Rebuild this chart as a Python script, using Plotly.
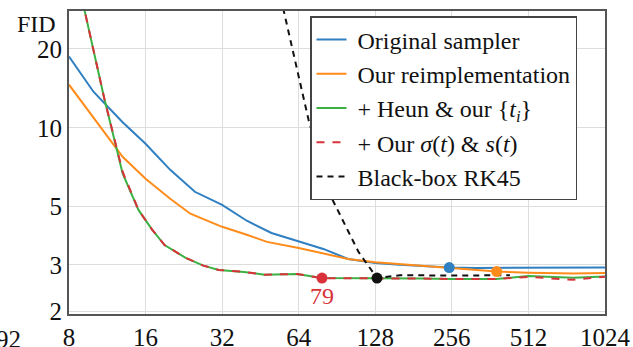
import plotly.graph_objects as go
import math

# ---- data ----
x_orig = [8, 10, 13, 16, 20, 25, 32, 40, 50, 64, 80, 100, 128, 160, 200, 250, 320, 400, 512, 640, 800, 1024]
y_orig = [18.7, 13.7, 10.5, 8.69, 6.91, 5.70, 5.08, 4.42, 3.97, 3.70, 3.45, 3.16, 3.05, 3.00, 2.96, 2.93, 2.92, 2.92, 2.92, 2.92, 2.925, 2.93]

x_reimpl = [8, 10, 13, 16, 20, 24, 32, 40, 48, 64, 80, 100, 128, 160, 200, 256, 384, 512, 768, 1024]
y_reimpl = [14.6, 10.9, 7.75, 6.39, 5.36, 4.70, 4.19, 3.91, 3.67, 3.48, 3.31, 3.16, 3.07, 3.02, 2.97, 2.93, 2.83, 2.80, 2.78, 2.79]

x_heun = [9, 11, 13, 15, 17, 19, 23, 27, 31, 39, 47, 63, 79, 95, 127, 159, 191, 255, 319, 383, 511, 639, 767, 1023]
y_heun = [31.0, 13.0, 6.7, 4.86, 4.08, 3.57, 3.19, 2.98, 2.87, 2.82, 2.75, 2.77, 2.67, 2.67, 2.67, 2.67, 2.66, 2.65, 2.65, 2.65, 2.72, 2.69, 2.68, 2.71]

x_ours = [9, 11, 13, 15, 17, 19, 23, 27, 31, 39, 47, 63, 79, 95, 127, 159, 191, 255, 319, 383, 511, 639, 767, 1023]
y_ours = [31.0, 13.0, 6.8, 4.86, 4.08, 3.57, 3.19, 2.98, 2.87, 2.82, 2.75, 2.77, 2.67, 2.67, 2.67, 2.66, 2.66, 2.65, 2.65, 2.65, 2.70, 2.66, 2.63, 2.70]

x_rk45 = [52, 70, 85, 110, 130, 160, 250, 433]
y_rk45 = [38.0, 10.7, 5.55, 3.36, 2.67, 2.74, 2.73, 2.74]

best_x = [250, 384, 79, 130]
best_y = [2.93, 2.83, 2.67, 2.67]

x_ticks = [8, 16, 32, 64, 128, 256, 512, 1024]
y_ticks = [2, 3, 5, 10, 20]

names = ["Original sampler", "Our reimplementation",
         "+ Heun &amp; our {<i>t</i><sub><i>i</i></sub>}",
         "+ Our <i>σ</i>(<i>t</i>) &amp; <i>s</i>(<i>t</i>)",
         "Black-box RK45"]

BLUE = "#2f7fc1"
ORANGE = "#ff8c1a"
GREEN = "#3cb043"
RED = "#d9323a"
BLACK = "#111111"
FONT = "Liberation Serif"

fig = go.Figure()
fig.add_trace(go.Scatter(x=x_orig, y=y_orig, mode="lines", name="&nbsp;" + names[0],
                         line=dict(color=BLUE, width=2)))
fig.add_trace(go.Scatter(x=x_reimpl, y=y_reimpl, mode="lines", name="&nbsp;" + names[1],
                         line=dict(color=ORANGE, width=2)))
fig.add_trace(go.Scatter(x=x_heun, y=y_heun, mode="lines", name="&nbsp;" + names[2],
                         line=dict(color=GREEN, width=2)))
fig.add_trace(go.Scatter(x=x_ours, y=y_ours, mode="lines", name="&nbsp;" + names[3],
                         line=dict(color=RED, width=2, dash="8px,8px")))
fig.add_trace(go.Scatter(x=x_rk45, y=y_rk45, mode="lines", name="&nbsp;" + names[4],
                         line=dict(color=BLACK, width=2, dash="6px,5px")))
fig.add_trace(go.Scatter(x=best_x, y=best_y, mode="markers", showlegend=False,
                         marker=dict(size=11, color=[BLUE, ORANGE, RED, BLACK])))

fig.add_annotation(x=math.log10(79), y=math.log10(2.29), xref="x", yref="y",
                   text="79", showarrow=False,
                   font=dict(family=FONT, size=24, color=RED))
fig.add_annotation(x=(58 - 69) / 536, y=(314 - 9) / 303, xref="paper", yref="paper",
                   text="FID", showarrow=False, xanchor="right",
                   font=dict(family=FONT, size=24, color="#111"))
fig.add_annotation(x=(23 - 69) / 536, y=-(355 - 314) / 303, xref="paper", yref="paper",
                   text="8192", showarrow=False, xanchor="right",
                   font=dict(family=FONT, size=25, color="#111"))

fig.update_layout(
    width=633, height=347,
    margin=dict(l=69, r=28, t=11, b=33, autoexpand=False),
    paper_bgcolor="white", plot_bgcolor="white",
    font=dict(family=FONT, size=24, color="#111"),
    legend=dict(x=(310 - 69) / 536, y=(314 - 16) / 303, xanchor="left", yanchor="top",
                bgcolor="white", bordercolor="#444", borderwidth=1.5,
                font=dict(family=FONT, size=24, color="#111"),
                entrywidth=214, entrywidthmode="pixels", tracegroupgap=0),
)
fig.update_xaxes(type="log", range=[math.log10(8), math.log10(1024)],
                 tickvals=x_ticks, ticktext=[str(v) for v in x_ticks],
                 showgrid=True, gridcolor="#dddddd", gridwidth=1,
                 showline=True, linecolor="#555", linewidth=2, mirror=True,
                 ticks="", zeroline=False, automargin=False,
                 tickfont=dict(family=FONT, size=25, color="#111"))
fig.update_yaxes(type="log", range=[math.log10(1.948), math.log10(27.9)],
                 tickvals=y_ticks, ticktext=[str(v) for v in y_ticks],
                 showgrid=True, gridcolor="#dddddd", gridwidth=1,
                 showline=True, linecolor="#555", linewidth=2, mirror=True,
                 ticks="", zeroline=False, automargin=False,
                 tickfont=dict(family=FONT, size=25, color="#111"))

fig.write_html("out.html")
